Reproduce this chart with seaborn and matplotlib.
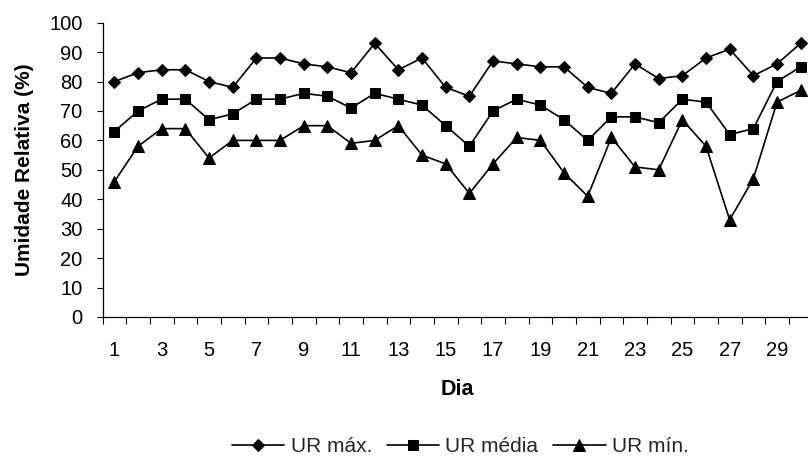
import matplotlib
matplotlib.use("Agg")
import matplotlib.pyplot as plt
import seaborn as sns
import pandas as pd
from matplotlib.ticker import FixedLocator, NullFormatter, FixedFormatter

# Daily relative humidity (%)
dias = list(range(1, 31))
ur_max = [80, 83, 84, 84, 80, 78, 88, 88, 86, 85, 83, 93, 84, 88, 78,
          75, 87, 86, 85, 85, 78, 76, 86, 81, 82, 88, 91, 82, 86, 93]
ur_media = [63, 70, 74, 74, 67, 69, 74, 74, 76, 75, 71, 76, 74, 72, 65,
            58, 70, 74, 72, 67, 60, 68, 68, 66, 74, 73, 62, 64, 80, 85]
ur_min = [46, 58, 64, 64, 54, 60, 60, 60, 65, 65, 59, 60, 65, 55, 52,
          42, 52, 61, 60, 49, 41, 61, 51, 50, 67, 58, 33, 47, 73, 77]
series_labels = ["UR máx.", "UR média", "UR mín."]
y_ticks = list(range(0, 101, 10))
x_tick_labels = [str(d) for d in dias if d % 2 == 1]

sns.set_theme(style="white")
plt.rcParams["font.family"] = ["Liberation Sans", "DejaVu Sans"]

fig = plt.figure(figsize=(8.08, 4.59), dpi=100)
ax = fig.add_axes([0.1269, 0.3094, 0.8787, 0.6412])

markers = ["D", "s", "^"]
sizes = [6.6, 7.2, 8.2]
for vals, lab, mk, ms in zip([ur_max, ur_media, ur_min], series_labels, markers, sizes):
    sns.lineplot(x=dias, y=vals, ax=ax, color="black", marker=mk, markersize=ms,
                 markeredgecolor="black", markerfacecolor="black",
                 linewidth=1.2, label=lab, legend=False)

ax.set_xlim(0.5, 30.5)
ax.set_ylim(0, 100)
ax.yaxis.set_major_locator(FixedLocator(y_ticks))

# category boundaries carry the tick marks, odd days carry the labels
ax.xaxis.set_major_locator(FixedLocator([d - 0.5 for d in dias] + [30.5]))
ax.xaxis.set_major_formatter(NullFormatter())
ax.xaxis.set_minor_locator(FixedLocator([d for d in dias if d % 2 == 1]))
ax.xaxis.set_minor_formatter(FixedFormatter(x_tick_labels))

ax.tick_params(axis="x", which="major", direction="out", length=5, width=0.8,
               color="black", bottom=True)
ax.tick_params(axis="x", which="minor", length=0, pad=17.5, labelsize=14.5,
               labelcolor="black", bottom=True)
ax.tick_params(axis="y", which="major", direction="out", length=4.3, width=0.8,
               color="black", pad=10, labelsize=14.5, labelcolor="black", left=True)

for side in ["top", "right"]:
    ax.spines[side].set_visible(False)
for side in ["left", "bottom"]:
    ax.spines[side].set_color("black")
    ax.spines[side].set_linewidth(0.9)

ax.set_xlabel("Dia", fontsize=15.5, fontweight="bold", color="black")
ax.xaxis.set_label_coords(0.5, -0.212)
ax.xaxis.label.set_va("top")
ax.set_ylabel("Umidade Relativa (%)", fontsize=15, fontweight="bold", color="black")
ax.yaxis.set_label_coords(-0.097, 0.5)

handles, labels = ax.get_legend_handles_labels()
fig.legend(handles, labels, loc="center", bbox_to_anchor=(460.5 / 808, 1 - 447 / 459),
           bbox_transform=fig.transFigure, ncol=3, frameon=False, fontsize=15,
           handlelength=2.5, handletextpad=0.3, columnspacing=0.72, borderpad=0)

fig.savefig("out.png", dpi=100, facecolor="white")
